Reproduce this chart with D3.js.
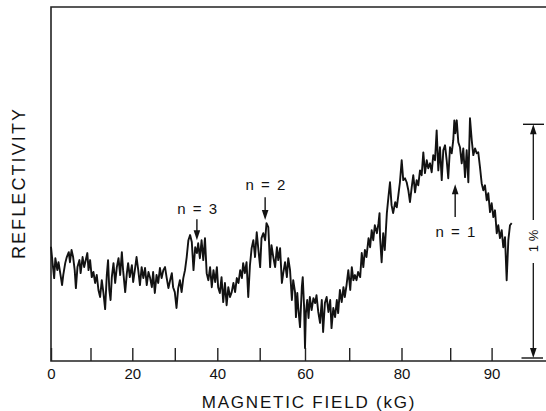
<!DOCTYPE html>
<html>
<head>
<meta charset="utf-8">
<script src="https://cdn.jsdelivr.net/npm/d3@7"></script>
<style>
  body { margin: 0; background: #fff; }
  svg { display: block; font-family: "Liberation Sans", Arial, sans-serif; }
</style>
</head>
<body>
<svg id="chart" width="546" height="411"></svg>
<script>
// field axis ticks (kG) and the ones that get a number
var tickValues = [0, 10, 20, 30, 40, 50, 60, 70, 80, 85, 90];
var tickLabels = [0, 20, 40, 60, 80, 90];

// trace: [field (kG), reflectivity (% above bar foot)]
var trace = [
  [0.0,0.476],[0.4,0.406],[0.8,0.342],[1.1,0.427],[1.6,0.376],[1.9,0.410],[2.5,0.346],[2.8,0.312],
  [3.1,0.355],[3.6,0.406],[4.0,0.432],[4.5,0.453],[4.8,0.410],[5.2,0.462],[5.6,0.432],[6.0,0.376],
  [6.3,0.299],[6.7,0.389],[7.2,0.419],[7.5,0.363],[8.0,0.432],[8.4,0.389],[8.9,0.427],[9.2,0.449],
  [9.5,0.376],[9.9,0.419],[10.3,0.346],[10.7,0.368],[11.1,0.321],[11.5,0.355],[11.9,0.291],[12.3,0.261],
  [12.7,0.333],[13.1,0.278],[13.5,0.209],[13.9,0.355],[14.2,0.419],[14.5,0.291],[14.8,0.248],[15.1,0.346],
  [15.5,0.406],[15.9,0.321],[16.3,0.389],[16.7,0.427],[17.1,0.355],[17.5,0.453],[17.8,0.376],[18.3,0.282],
  [18.7,0.363],[19.0,0.406],[19.4,0.346],[19.9,0.397],[20.2,0.325],[20.6,0.376],[21.0,0.432],[21.4,0.376],
  [21.8,0.312],[22.2,0.389],[22.6,0.342],[23.0,0.385],[23.4,0.312],[23.8,0.368],[24.2,0.342],[24.6,0.303],
  [24.9,0.368],[25.3,0.278],[25.7,0.355],[26.1,0.321],[26.5,0.385],[26.9,0.342],[27.3,0.376],[27.7,0.389],
  [28.1,0.342],[28.5,0.299],[28.9,0.333],[29.3,0.363],[29.6,0.303],[30.0,0.282],[30.4,0.214],[30.8,0.299],
  [31.2,0.333],[31.6,0.282],[32.0,0.342],[32.4,0.376],[32.8,0.432],[33.2,0.504],[33.6,0.526],[34.0,0.496],
  [34.4,0.376],[34.8,0.474],[35.2,0.449],[35.5,0.491],[35.9,0.427],[36.3,0.504],[36.7,0.419],[37.1,0.513],
  [37.5,0.363],[37.9,0.333],[38.3,0.389],[38.7,0.303],[39.1,0.376],[39.5,0.325],[39.9,0.389],[40.2,0.303],
  [40.6,0.278],[41.0,0.346],[41.4,0.239],[41.8,0.321],[42.2,0.226],[42.6,0.303],[43.0,0.261],[43.4,0.282],
  [43.8,0.321],[44.2,0.282],[44.6,0.342],[45.0,0.321],[45.4,0.376],[45.8,0.342],[46.1,0.406],[46.5,0.363],
  [46.9,0.410],[47.3,0.261],[47.7,0.397],[48.1,0.470],[48.5,0.504],[48.9,0.432],[49.3,0.538],[49.7,0.462],
  [50.1,0.389],[50.4,0.513],[50.8,0.534],[51.2,0.504],[51.5,0.577],[51.9,0.560],[52.3,0.389],[52.6,0.483],
  [53.0,0.432],[53.4,0.389],[53.8,0.474],[54.1,0.419],[54.5,0.470],[54.9,0.321],[55.2,0.363],[55.6,0.410],
  [56.0,0.346],[56.3,0.427],[56.7,0.376],[57.1,0.248],[57.4,0.333],[57.8,0.282],[58.0,0.175],[58.3,0.278],
  [58.5,0.218],[58.9,0.132],[59.3,0.303],[59.5,0.346],[59.8,0.218],[60.0,0.043],[60.2,0.192],[60.5,0.248],
  [60.8,0.171],[61.1,0.261],[61.5,0.205],[61.9,0.256],[62.3,0.235],[62.6,0.269],[63.0,0.197],[63.4,0.150],
  [63.8,0.248],[64.1,0.111],[64.5,0.235],[64.9,0.261],[65.3,0.197],[65.7,0.248],[66.0,0.128],[66.4,0.214],
  [66.8,0.175],[67.2,0.248],[67.5,0.192],[67.9,0.291],[68.3,0.239],[68.7,0.303],[69.0,0.261],[69.4,0.312],
  [69.8,0.376],[70.2,0.291],[70.5,0.389],[70.8,0.333],[71.1,0.355],[71.4,0.333],[71.7,0.368],[72.1,0.346],
  [72.4,0.449],[72.7,0.389],[73.0,0.462],[73.3,0.432],[73.7,0.513],[74.0,0.474],[74.3,0.547],[74.6,0.504],
  [74.9,0.568],[75.3,0.534],[75.6,0.577],[75.8,0.620],[75.9,0.517],[76.2,0.410],[76.5,0.534],[76.8,0.462],
  [77.2,0.620],[77.5,0.688],[77.8,0.752],[78.1,0.654],[78.4,0.620],[78.8,0.667],[79.1,0.645],[79.4,0.697],
  [79.7,0.752],[80.02,0.846],[80.18,0.761],[80.36,0.769],[80.53,0.752],[80.70,0.718],[80.87,0.667],[81.05,0.731],
  [81.21,0.782],[81.39,0.709],[81.56,0.761],[81.72,0.739],[81.90,0.803],[82.07,0.782],[82.24,0.880],[82.41,0.791],
  [82.59,0.846],[82.75,0.812],[82.93,0.833],[83.10,0.795],[83.26,0.868],[83.44,0.846],[83.61,0.974],[83.78,0.803],
  [83.95,0.902],[84.13,0.761],[84.29,0.889],[84.47,0.910],[84.64,0.846],[84.80,0.769],[84.98,0.902],[85.18,0.876],
  [85.37,0.932],[85.50,1.017],[85.62,0.962],[85.79,1.017],[85.98,0.923],[86.18,0.902],[86.39,0.833],[86.58,0.897],
  [86.79,0.774],[86.99,0.889],[87.19,0.752],[87.39,1.026],[87.60,0.932],[87.79,0.868],[88.00,0.897],[88.20,0.876],
  [88.39,0.880],[88.60,0.816],[88.80,0.748],[89.00,0.718],[89.20,0.739],[89.41,0.675],[89.60,0.705],[89.81,0.624],
  [90.01,0.662],[90.21,0.603],[90.41,0.632],[90.62,0.534],[90.81,0.568],[91.01,0.513],[91.22,0.547],[91.41,0.474],
  [91.62,0.517],[91.82,0.333],[92.02,0.504],[92.22,0.568],[92.43,0.577]
];

// resonance markers
var peakNames = ["n = 3", "n = 2", "n = 1"];
var peakField = [35.2, 51.2, 85.6];
var arrowTip = [0.504, 0.590, 0.744];
var arrowTail = [0.594, 0.688, 0.603];
var labelLevel = [0.615, 0.718, 0.517];

// the 1 % reference bar on the right
var barSpan = [0, 1];
var barLabel = "1 %";

var svg = d3.select("#chart");
var frame = { left: 51, top: 7, bottom: 361, right: 546 };
var ink = "#121212";

// the field axis of the recording is not linear, so map tick by tick
var x = d3.scaleLinear()
    .domain(tickValues)
    .range([51, 90.5, 132.3, 174.8, 217.3, 259.7, 305, 349.2, 401.5, 450.2, 491.6]);
var y = d3.scaleLinear().domain([0, 1]).range([358, 124.3]);

// frame: left, top and bottom lines (no right edge)
svg.append("path")
    .attr("d", "M" + frame.right + "," + frame.top + "H" + frame.left +
        "V" + frame.bottom + "H" + frame.right)
    .attr("fill", "none")
    .attr("stroke", "#222")
    .attr("stroke-width", 1.6);

var xAxis = d3.axisBottom(x)
    .tickValues(tickValues)
    .tickSize(-13)
    .tickPadding(7)
    .tickFormat(function(d) { return tickLabels.indexOf(d) >= 0 ? d : ""; });

var gx = svg.append("g")
    .attr("transform", "translate(0," + frame.bottom + ")")
    .call(xAxis);
gx.select(".domain").remove();
gx.selectAll(".tick line").attr("stroke", "#222").attr("stroke-width", 1.4);
gx.selectAll(".tick text")
    .attr("fill", ink)
    .style("font-size", "15px");

svg.append("text")
    .attr("x", 309)
    .attr("y", 408)
    .attr("text-anchor", "middle")
    .style("font-size", "17px")
    .style("letter-spacing", "1.8px")
    .attr("fill", ink)
    .text("MAGNETIC FIELD (kG)");

svg.append("text")
    .attr("transform", "translate(25,183) rotate(-90)")
    .attr("text-anchor", "middle")
    .style("font-size", "18px")
    .style("letter-spacing", "2.1px")
    .attr("fill", ink)
    .text("REFLECTIVITY");

// the trace itself
var line = d3.line()
    .x(function(d) { return x(d[0]); })
    .y(function(d) { return y(d[1]); });

svg.append("path")
    .datum(trace)
    .attr("d", line)
    .attr("fill", "none")
    .attr("stroke", ink)
    .attr("stroke-width", 1.9)
    .attr("stroke-linejoin", "round");

function arrowHead(px, tipY, dir) {
    // dir = 1 points down, -1 points up
    svg.append("path")
        .attr("d", "M" + px + "," + tipY +
            "L" + (px - 3.3) + "," + (tipY - dir * 10) +
            "L" + (px + 3.3) + "," + (tipY - dir * 10) + "Z")
        .attr("fill", ink);
}

// n = 1,2,3 labels with arrows
peakNames.forEach(function(name, i) {
    var px = x(peakField[i]);
    var tip = y(arrowTip[i]);
    var tail = y(arrowTail[i]);
    var dir = tip > tail ? 1 : -1;
    svg.append("line")
        .attr("x1", px).attr("x2", px)
        .attr("y1", tail).attr("y2", tip - dir * 6)
        .attr("stroke", ink)
        .attr("stroke-width", 1.4);
    arrowHead(px, tip, dir);
    svg.append("text")
        .attr("x", px + 1)
        .attr("y", y(labelLevel[i]))
        .attr("text-anchor", "middle")
        .style("font-size", "15px")
        .style("letter-spacing", "1.5px")
        .attr("fill", ink)
        .text(name);
});

// 1 % scale bar
var bx = 533.3;
var bTop = y(barSpan[1]), bBot = y(barSpan[0]);
var mid = 241;
svg.append("line")
    .attr("x1", 523).attr("x2", 544)
    .attr("y1", bTop).attr("y2", bTop)
    .attr("stroke", ink).attr("stroke-width", 1.4);
svg.append("line")
    .attr("x1", 521.5).attr("x2", 543)
    .attr("y1", bBot).attr("y2", bBot)
    .attr("stroke", ink).attr("stroke-width", 1.4);
svg.append("line")
    .attr("x1", bx).attr("x2", bx)
    .attr("y1", bTop + 6).attr("y2", mid - 21)
    .attr("stroke", ink).attr("stroke-width", 1.3);
svg.append("line")
    .attr("x1", bx).attr("x2", bx)
    .attr("y1", mid + 22).attr("y2", bBot - 6)
    .attr("stroke", ink).attr("stroke-width", 1.3);
arrowHead(bx, bTop, -1);
arrowHead(bx, bBot, 1);

svg.append("text")
    .attr("transform", "translate(538," + mid + ") rotate(-90)")
    .attr("text-anchor", "middle")
    .style("font-size", "13px")
    .attr("fill", ink)
    .text(barLabel);
</script>
</body>
</html>
